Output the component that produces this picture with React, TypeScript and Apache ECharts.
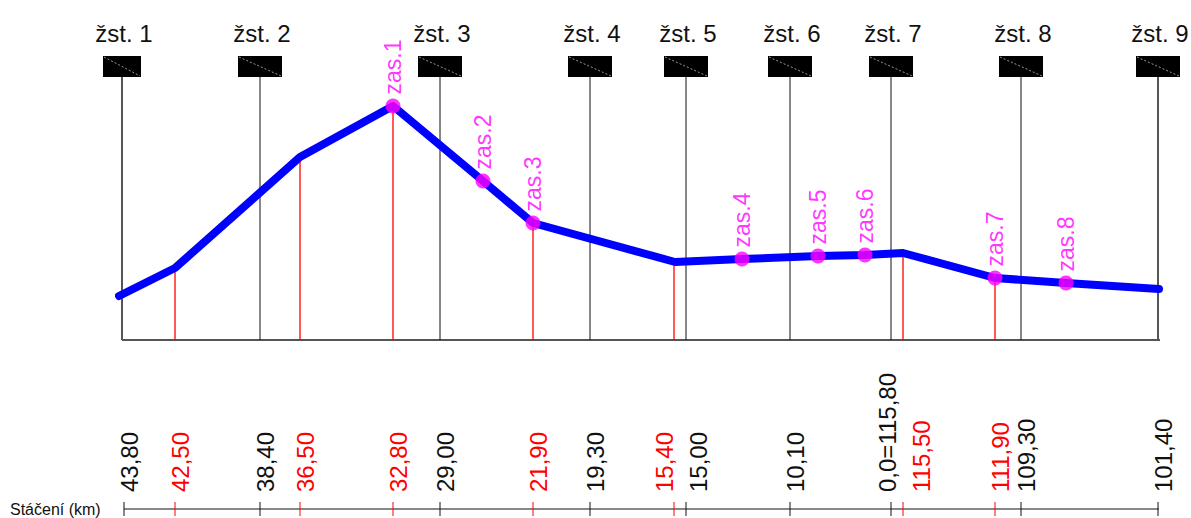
import React, { useEffect, useRef } from "react";
import * as echarts from "echarts";

// ---- DATA (schematic position along the line, profile height in drawing units) ----
const profilePos = [0, 56, 181, 274, 364, 414, 556, 623, 699, 746, 784, 876, 947, 1040];
const profileHeight = [44, 72, 183, 234, 159, 117, 78, 81, 84, 85, 87, 62, 57, 51];

const stationNames = ["žst. 1", "žst. 2", "žst. 3", "žst. 4", "žst. 5", "žst. 6", "žst. 7", "žst. 8", "žst. 9"];
const stationPos = [3, 141, 321, 471, 567, 671, 772, 902, 1039];
const stationKm = ["43,80", "38,40", "29,00", "19,30", "15,00", "10,10", "0,0=115,80", "109,30", "101,40"];

const stopNames = ["zas.1", "zas.2", "zas.3", "zas.4", "zas.5", "zas.6", "zas.7", "zas.8"];
const stopPos = [274, 364, 414, 623, 699, 746, 876, 947];
const stopHeight = [234, 159, 117, 81, 84, 85, 62, 57];

const markerPos = [56, 181, 274, 414, 555, 784, 876];
const markerKm = ["42,50", "36,50", "32,80", "21,90", "15,40", "115,50", "111,90"];

const axisTitle = "Stáčení (km)";

// ---- STYLE ----
const FONT = "'Liberation Sans', Arial, sans-serif";
const BLUE = "#0000ff";
const MAGENTA = "#ff00ff";
const RED = "#ff0000";
const kmLabelShift: Record<string, number> = { "15,40": -10, "15,00": 12, "0,0=115,80": -4, "115,50": 18 };

function profileAt(p: number): number {
  for (let i = 0; i < profilePos.length - 1; i++) {
    const a = profilePos[i], b = profilePos[i + 1];
    if (p >= a && p <= b) {
      const t = (p - a) / (b - a);
      return profileHeight[i] + t * (profileHeight[i + 1] - profileHeight[i]);
    }
  }
  return profileHeight[profileHeight.length - 1];
}

export default function App() {
  const ref = useRef<HTMLDivElement>(null);
  useEffect(() => {
    if (!ref.current) return;
    const chart = echarts.init(ref.current, undefined, { renderer: "svg" });

    const kmItems = [
      ...stationPos.map((p, i) => ({ pos: p, label: stationKm[i], red: 0 })),
      ...markerPos.map((p, i) => ({ pos: p, label: markerKm[i], red: 1 })),
    ];

    const option: any = {
      animation: false,
      grid: { left: 119, right: 32, top: 0, bottom: 0 },
      xAxis: { type: "value", min: 0, max: 1040, show: false },
      yAxis: { type: "value", min: -178, max: 340, show: false },
      graphic: [
        {
          type: "text",
          x: 10,
          y: 509,
          style: { text: axisTitle, font: `16px ${FONT}`, fill: "#111", verticalAlign: "middle", align: "left" },
        },
      ],
      series: [
        // baseline of profile
        {
          type: "line",
          data: [[3, 0], [1041, 0]],
          symbol: "none",
          lineStyle: { color: "#555", width: 2 },
          z: 1,
          silent: true,
        },
        // stations
        {
          type: "custom",
          z: 2,
          silent: true,
          data: stationPos.map((p, i) => [p, i]),
          renderItem: (params: any, api: any) => {
            const x = api.value(0);
            const i = api.value(1);
            const base = api.coord([x, 0]);
            const bb = api.coord([x, 263]);
            const bt = api.coord([x, 284]);
            const lp = api.coord([x, 307]);
            const w = i === 0 ? 38 : 44;
            const edge = i === 0 || i === stationPos.length - 1;
            return {
              type: "group",
              children: [
                {
                  type: "line",
                  shape: { x1: base[0], y1: base[1], x2: bb[0], y2: bb[1] },
                  style: { stroke: edge ? "#555" : "#111", lineWidth: edge ? 2 : 1 },
                },
                {
                  type: "rect",
                  shape: { x: bt[0] - w / 2, y: bt[1], width: w, height: bb[1] - bt[1] },
                  style: { fill: "#000" },
                },
                {
                  type: "line",
                  shape: { x1: bt[0] - w / 2 + 1, y1: bt[1] + 1, x2: bt[0] + w / 2 - 1, y2: bb[1] - 1 },
                  style: { stroke: "#9a9a9a", lineWidth: 1, lineDash: [2, 2] },
                },
                {
                  type: "text",
                  style: {
                    text: stationNames[i],
                    x: lp[0] + 2,
                    y: lp[1],
                    align: "center",
                    verticalAlign: "middle",
                    font: `24px ${FONT}`,
                    fill: "#111",
                  },
                },
              ],
            };
          },
        },
        // red markers from baseline up to the profile
        {
          type: "custom",
          z: 2,
          silent: true,
          data: markerPos.map((p) => [p]),
          renderItem: (params: any, api: any) => {
            const x = api.value(0);
            const a = api.coord([x, 0]);
            const b = api.coord([x, profileAt(x)]);
            return {
              type: "line",
              shape: { x1: a[0], y1: a[1], x2: b[0], y2: b[1] },
              style: { stroke: RED, lineWidth: 1.3 },
            };
          },
        },
        // profile
        {
          type: "line",
          data: profilePos.map((p, i) => [p, profileHeight[i]]),
          symbol: "none",
          lineStyle: { color: BLUE, width: 8, cap: "round", join: "round" },
          z: 3,
          silent: true,
        },
        // stops
        {
          type: "scatter",
          data: stopPos.map((p, i) => [p, stopHeight[i], stopNames[i]]),
          symbol: "circle",
          symbolSize: 15,
          itemStyle: { color: MAGENTA },
          z: 4,
          silent: true,
          label: {
            show: true,
            position: "top",
            distance: 4,
            rotate: 90,
            align: "left",
            verticalAlign: "middle",
            color: MAGENTA,
            fontSize: 23,
            fontFamily: FONT,
            formatter: (p: any) => p.value[2],
          },
        },
        // km axis line
        {
          type: "line",
          data: [[5, -169], [1040, -169]],
          symbol: "none",
          lineStyle: { color: "#111", width: 1 },
          z: 1,
          silent: true,
        },
        // km ticks + labels
        {
          type: "custom",
          z: 2,
          silent: true,
          data: kmItems.map((k, i) => [k.pos + (k.red === 0 && k.pos === 3 ? 2 : 0), i]),
          renderItem: (params: any, api: any) => {
            const x = api.value(0);
            const k = kmItems[api.value(1)];
            const t1 = api.coord([x, -162]);
            const t2 = api.coord([x, -176]);
            const lp = api.coord([x, -152]);
            const color = k.red ? RED : "#111";
            const shift = kmLabelShift[k.label] ?? 5;
            return {
              type: "group",
              children: [
                {
                  type: "line",
                  shape: { x1: t1[0], y1: t1[1], x2: t2[0], y2: t2[1] },
                  style: { stroke: color, lineWidth: 1 },
                },
                {
                  type: "text",
                  x: lp[0] + shift,
                  y: lp[1],
                  rotation: Math.PI / 2,
                  style: {
                    text: k.label,
                    x: 0,
                    y: 0,
                    align: "left",
                    verticalAlign: "middle",
                    font: `24px ${FONT}`,
                    fill: color,
                  },
                },
              ],
            };
          },
        },
      ],
    };
    chart.setOption(option);
    return () => chart.dispose();
  }, []);
  return (
    <div
      ref={ref}
      style={{ position: "fixed", left: 0, top: 0, width: 1191, height: 518, background: "#fff" }}
    />
  );
}
